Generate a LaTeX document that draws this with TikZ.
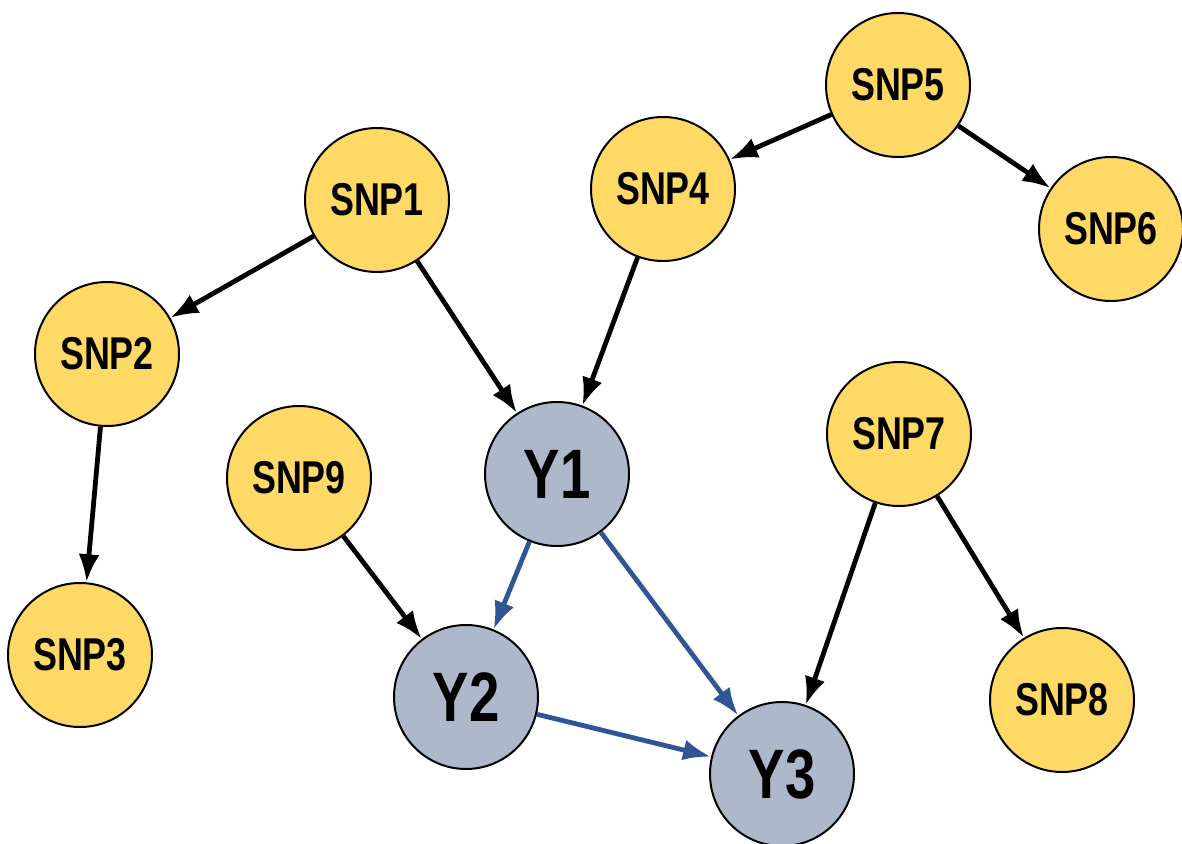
\documentclass[tikz,border=0pt]{standalone}
\usepackage{fontspec}
\setmainfont{Liberation Sans}[FakeStretch=0.78]
\usepackage{tikz}
\usetikzlibrary{arrows.meta}
\definecolor{snpfill}{HTML}{FFD966}
\definecolor{yfill}{HTML}{ADB9CA}
\definecolor{yedge}{HTML}{2F5597}

\begin{document}
\begin{tikzpicture}[x=0.5pt, y=-0.5pt, >={Latex[length=14pt,width=10.5pt]},
  snp/.style={circle, draw=black, line width=1pt, fill=snpfill, minimum size=72pt, inner sep=0pt, font=\bfseries\fontsize{23}{26}\selectfont},
  trait/.style={circle, draw=black, line width=1pt, fill=yfill, minimum size=72pt, inner sep=0pt, font=\bfseries\fontsize{35}{40}\selectfont},
  link/.style={->, line width=2.4pt, black},
  ylink/.style={->, line width=2.4pt, yedge}]
\useasboundingbox (0,0) rectangle (1182,844);

% SNP nodes
\node[snp] (snp1) at (377,200) {SNP1};
\node[snp] (snp2) at (107,354) {SNP2};
\node[snp] (snp3) at (80,655) {SNP3};
\node[snp] (snp4) at (663,189) {SNP4};
\node[snp] (snp5) at (898,85) {SNP5};
\node[snp] (snp6) at (1111,229) {SNP6};
\node[snp] (snp7) at (899,434) {SNP7};
\node[snp] (snp8) at (1062,700) {SNP8};
\node[snp] (snp9) at (299,478) {SNP9};

% Traits
\node[trait] (y1) at (557,474) {Y1};
\node[trait] (y2) at (466,697) {Y2};
\node[trait] (y3) at (782,774) {Y3};

% SNP effects
\draw[link] (snp1) -- (snp2);
\draw[link] (snp1) -- (y1);
\draw[link] (snp2) -- (snp3);
\draw[link] (snp4) -- (y1);
\draw[link] (snp5) -- (snp4);
\draw[link] (snp5) -- (snp6);
\draw[link] (snp9) -- (y2);
\draw[link] (snp7) -- (y3);
\draw[link] (snp7) -- (snp8);

% Trait to trait
\draw[ylink] (y1) -- (y2);
\draw[ylink] (y1) -- (y3);
\draw[ylink] (y2) -- (y3);
\end{tikzpicture}
\end{document}
